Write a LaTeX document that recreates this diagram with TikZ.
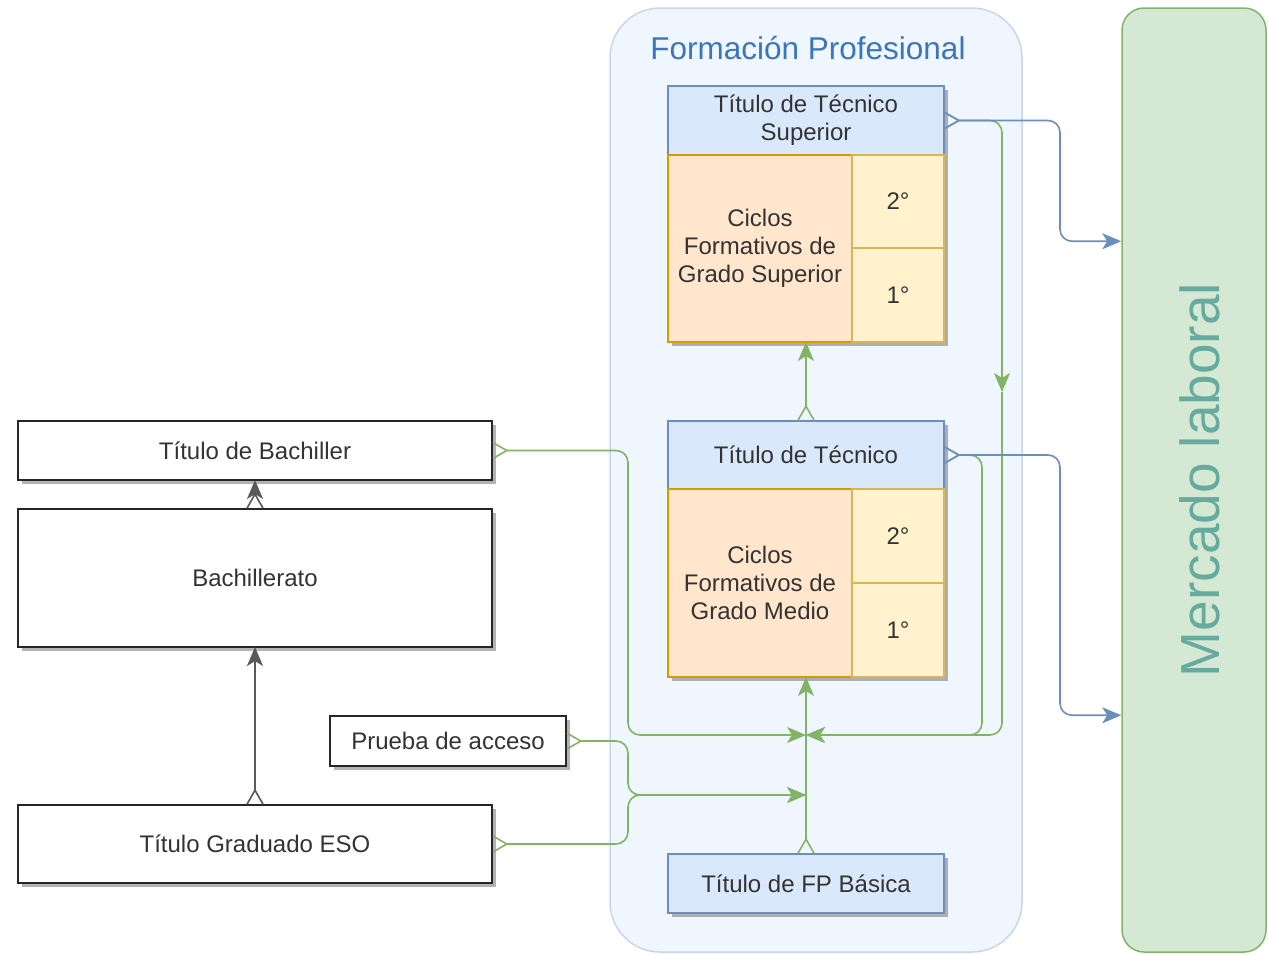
\documentclass[tikz,border=0pt]{standalone}
\usepackage{fontspec}
\setmainfont{Liberation Sans}
\usetikzlibrary{arrows.meta,positioning,calc,shadows}

\definecolor{txt}{HTML}{333333}
\definecolor{fpfill}{HTML}{F0F6FE}
\definecolor{fpdraw}{HTML}{C6D7EF}
\definecolor{fptext}{HTML}{3A75BF}
\definecolor{titfill}{HTML}{DAE8FC}
\definecolor{titdraw}{HTML}{6C8EBF}
\definecolor{cicfill}{HTML}{FFE6CC}
\definecolor{cicdraw}{HTML}{D79B00}
\definecolor{yrfill}{HTML}{FFF2CC}
\definecolor{yrdraw}{HTML}{D6B656}
\definecolor{mlfill}{HTML}{D5E8D4}
\definecolor{mldraw}{HTML}{82B366}
\definecolor{mltext}{HTML}{67AB9F}
\definecolor{gline}{HTML}{82B366}
\definecolor{bline}{HTML}{6C8EBF}

\begin{document}
\begin{tikzpicture}[x=1pt,y=-1pt,
  base/.style={inner sep=0pt, outer sep=0pt, text=txt, align=center,
    font=\fontsize{24}{28}\selectfont},
  shad/.style={drop shadow={shadow xshift=4pt, shadow yshift=-4pt,
    fill=black!50, opacity=.6}},
  plainbox/.style={base, shad, draw=black!85, fill=white, line width=2pt},
  titbox/.style={base, shad, draw=titdraw, fill=titfill, line width=1.8pt},
  cicbox/.style={base, shad, draw=cicdraw, fill=cicfill, line width=1.8pt},
  yrbox/.style={base, shad, draw=yrdraw, fill=yrfill, line width=1.8pt},
  foot/.style={arrows={Straight Barb[reversed,length=14pt,width=16pt]-Stealth[length=19pt,width=16pt,inset=5pt]}},
  headonly/.style={arrows={-Stealth[length=19pt,width=16pt,inset=5pt]}},
  gconn/.style={draw=gline, line width=1.6pt, rounded corners=12pt, foot},
  bconn/.style={draw=bline, line width=1.6pt, rounded corners=12pt, foot},
  grconn/.style={draw=black!65, line width=1.6pt, foot}]

  \useasboundingbox (0,0) rectangle (1268,954);

  % containers
  \node[inner sep=0pt, draw=fpdraw, fill=fpfill, line width=1.5pt,
    rounded corners=50pt, minimum width=412, minimum height=944]
    (fp) at (816,480) {};
  \node[font=\fontsize{31.5}{36}\selectfont, text=fptext] (fptitle) at (808,48)
    {Formación Profesional};

  \node[inner sep=0pt, draw=mldraw, fill=mlfill, line width=1.5pt,
    rounded corners=22pt, minimum width=144, minimum height=944]
    (merc) at (1194,480) {};
  \node[rotate=90, text=mltext, font=\fontsize{55}{60}\selectfont]
    (mltxt) at ($(merc.center)+(6,0)$) {Mercado laboral};

  % left column
  \node[plainbox, minimum width=474, minimum height=59] (bacht) at (255,450.5)
    {Título de Bachiller};
  \node[plainbox, minimum width=474, minimum height=138] (bach) at (255,578)
    {Bachillerato};
  \node[plainbox, minimum width=474, minimum height=78] (eso) at (255,844)
    {Título Graduado ESO};
  \node[plainbox, minimum width=236, minimum height=50] (prueba) at (448,741)
    {Prueba de acceso};

  % grado superior
  \node[titbox, minimum width=276, minimum height=69] (tts) at (806,120.5)
    {Título de Técnico\\Superior};
  \node[cicbox, minimum width=184, minimum height=187] (cgs) at (760,248.5)
    {Ciclos\\Formativos de\\Grado Superior};
  \node[yrbox, minimum width=92, minimum height=93] (gs2) at (898,201.5) {2°};
  \node[yrbox, minimum width=92, minimum height=94] (gs1) at (898,295) {1°};

  % grado medio
  \node[titbox, minimum width=276, minimum height=68] (tt) at (806,455)
    {Título de Técnico};
  \node[cicbox, minimum width=184, minimum height=188] (cgm) at (760,583)
    {Ciclos\\Formativos de\\Grado Medio};
  \node[yrbox, minimum width=92, minimum height=94] (gm2) at (898,536) {2°};
  \node[yrbox, minimum width=92, minimum height=94] (gm1) at (898,630) {1°};

  \node[titbox, minimum width=276, minimum height=59] (fpb) at (806,883.5)
    {Título de FP Básica};

  % junction points
  \coordinate (m1) at (806,735);
  \coordinate (m2) at (806,795);
  \coordinate (lx) at (628,0);
  \coordinate (rx) at (982,0);
  \coordinate (mid) at (1002,392);
  \coordinate (bx) at (1060,0);
  \coordinate (in1) at ($(merc.north west)+(0,234)$);
  \coordinate (in2) at ($(merc.north west)+(0,708)$);

  % gray connectors
  \draw[grconn] (eso.north) -- (bach.south);
  \draw[grconn] (bach.north) -- (bacht.south);

  % green connectors
  \draw[gconn] (bacht.east) -| (lx |- m1) -- (m1);
  \draw[gconn] (prueba.east) -| (lx |- m2) -- (m2);
  \draw[gconn] (eso.east) -| (lx |- m2) -- (m2);
  \draw[gconn] (fpb.north) -- (fpb.north |- cgm.south);
  \draw[gconn] (tt.north) -- (tt.north |- cgs.south);
  \draw[gconn] (tt.east) -| (rx |- m1) -- (m1);
  \draw[gconn] (tts.east) -| (mid);
  \draw[gconn, headonly] (mid) |- (m1);

  % blue connectors
  \draw[bconn] (tts.east) -| (bx |- in1) -- (in1);
  \draw[bconn] (tt.east) -| (bx |- in2) -- (in2);
\end{tikzpicture}
\end{document}
